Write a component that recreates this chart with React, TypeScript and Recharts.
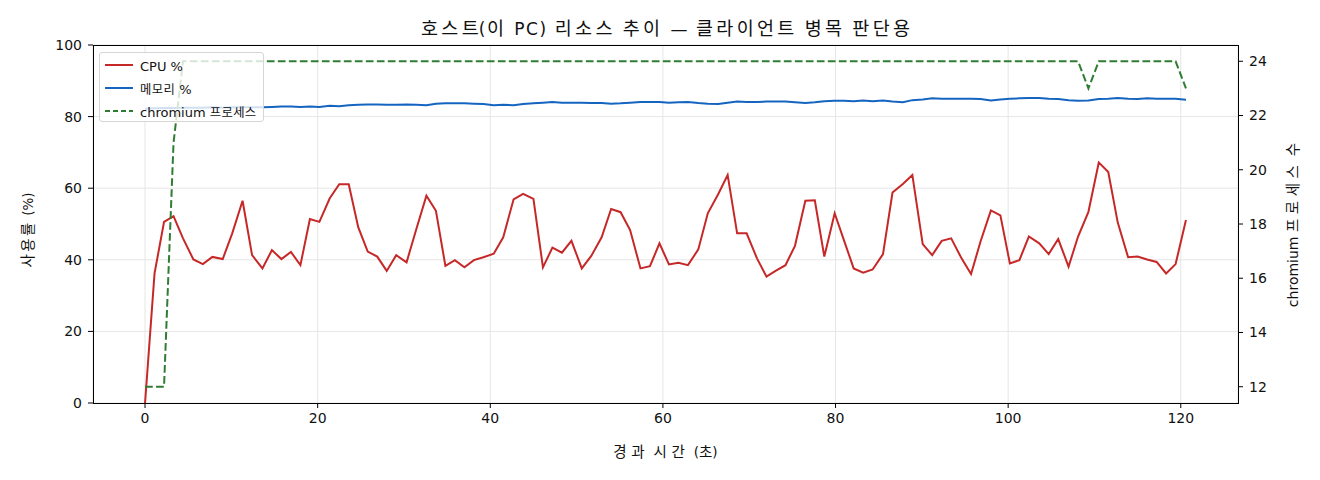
import React from "react";
import { LineChart, Line, XAxis, YAxis, CartesianGrid } from "recharts";

const timeSec = [
  0, 1.1, 2.2, 3.3, 4.4, 5.6, 6.7, 7.8, 9.0, 10.1, 11.3, 12.4, 13.6, 14.7, 15.8, 16.9, 18.0, 19.1, 20.2, 21.4, 22.5, 23.6, 24.7, 25.8, 26.9, 28.0, 29.1, 30.3,
  31.4, 32.6, 33.7, 34.8, 35.9, 37.0, 38.1, 39.2, 40.4, 41.5, 42.7, 43.8, 45.0, 46.1, 47.2, 48.3, 49.4, 50.6, 51.7, 52.9, 54.0, 55.1, 56.2, 57.4, 58.5, 59.6, 60.7, 61.8,
  62.9, 64.1, 65.2, 66.4, 67.5, 68.6, 69.7, 70.9, 72.0, 73.1, 74.2, 75.3, 76.5, 77.6, 78.7, 79.9, 81.0, 82.1, 83.2, 84.3, 85.5, 86.6, 87.8, 88.9, 90.1, 91.2, 92.3,
  93.4, 94.6, 95.7, 96.8, 98.0, 99.1, 100.2, 101.3, 102.4, 103.6, 104.7, 105.8, 107.0, 108.1, 109.3, 110.5, 111.6, 112.7, 113.9, 115.0, 116.1, 117.2, 118.3, 119.4, 120.6,
];

const cpuPct = [
  0, 36.2, 50.6, 52.2, 46.0, 40.1, 38.8, 40.8, 40.2, 47.4,
  56.5, 41.3, 37.6, 42.7, 40.2, 42.2, 38.5, 51.4, 50.6, 57.2,
  61.1, 61.1, 49.1, 42.3, 40.9, 36.9, 41.3, 39.3, 48.3, 57.9,
  53.7, 38.3, 39.9, 37.9, 39.9, 40.7, 41.7, 46.3, 56.9, 58.4,
  57.0, 37.9, 43.4, 42.0, 45.3, 37.6, 41.1, 46.3, 54.2, 53.3,
  48.3, 37.6, 38.2, 44.6, 38.7, 39.2, 38.5, 42.9, 53.0, 58.3,
  63.7, 47.4, 47.4, 40.4, 35.3, 37.0, 38.5, 43.9, 56.5, 56.6,
  40.9, 53.0, 45.3, 37.6, 36.4, 37.3, 41.6, 58.8, 61.2, 63.7,
  44.4, 41.3, 45.3, 46.0, 40.4, 36.0, 45.1, 53.8, 52.4, 39.0,
  39.9, 46.5, 44.6, 41.6, 45.8, 38.1, 46.5, 53.4, 67.2, 64.5,
  50.4, 40.7, 40.9, 40.1, 39.4, 36.2, 38.8, 51.1,
];

const memPct = [
  82.2, 82.3, 82.4, 82.4, 82.5, 82.5, 82.5, 82.6, 82.5, 82.6,
  82.6, 82.6, 82.6, 82.7, 82.8, 82.8, 82.7, 82.8, 82.7, 83.0,
  82.9, 83.2, 83.3, 83.4, 83.4, 83.3, 83.3, 83.4, 83.3, 83.2,
  83.6, 83.7, 83.7, 83.7, 83.6, 83.5, 83.2, 83.3, 83.2, 83.5,
  83.7, 83.9, 84.1, 83.9, 83.9, 83.9, 83.8, 83.8, 83.6, 83.7,
  83.9, 84.1, 84.1, 84.1, 83.9, 84.0, 84.1, 83.8, 83.6, 83.5,
  83.9, 84.2, 84.1, 84.1, 84.2, 84.2, 84.2, 84.0, 83.8, 84.0,
  84.3, 84.4, 84.4, 84.3, 84.5, 84.3, 84.5, 84.2, 84.0, 84.6,
  84.8, 85.1, 85.0, 85.0, 85.0, 85.0, 84.9, 84.5, 84.8, 85.0,
  85.1, 85.2, 85.2, 85.0, 84.9, 84.6, 84.4, 84.5, 84.9, 85.0,
  85.2, 85.0, 84.9, 85.1, 85.0, 85.0, 85.0, 84.7,
];

const chromiumCount = [
  12, 12, 12, 21, 24, 24, 24, 24, 24, 24,
  24, 24, 24, 24, 24, 24, 24, 24, 24, 24,
  24, 24, 24, 24, 24, 24, 24, 24, 24, 24,
  24, 24, 24, 24, 24, 24, 24, 24, 24, 24,
  24, 24, 24, 24, 24, 24, 24, 24, 24, 24,
  24, 24, 24, 24, 24, 24, 24, 24, 24, 24,
  24, 24, 24, 24, 24, 24, 24, 24, 24, 24,
  24, 24, 24, 24, 24, 24, 24, 24, 24, 24,
  24, 24, 24, 24, 24, 24, 24, 24, 24, 24,
  24, 24, 24, 24, 24, 24, 24, 23, 24, 24,
  24, 24, 24, 24, 24, 24, 24, 23,
];

const xTicks = [0, 20, 40, 60, 80, 100, 120];
const leftTicks = [0, 20, 40, 60, 80, 100];
const rightTicks = [12, 14, 16, 18, 20, 22, 24];

const titleText = "호스트(이 PC) 리소스 추이 — 클라이언트 병목 판단용";
const xLabel = "경과 시간 (초)";
const leftLabel = "사용률 (%)";
const rightLabel = "chromium 프로세스 수";
const seriesNames = ["CPU %", "메모리 %", "chromium 프로세스"];

const COLORS = { cpu: "#c62828", mem: "#1565c0", chrom: "#2e7d32" };
const KFONT = "'Noto Sans CJK KR', sans-serif";
const LFONT = "'DejaVu Sans', sans-serif";

const data = timeSec.map((t, i) => ({
  t,
  cpu: cpuPct[i],
  mem: memPct[i],
  chrom: chromiumCount[i],
}));

const tickStyle = { fill: "#111", fontSize: 14, fontFamily: LFONT };

type MixedProps = { text: string; kSize: number; kSpace: number; lSize: number; lSpace?: number };

function Mixed({ text, kSize, kSpace, lSize, lSpace = 0 }: MixedProps) {
  const parts = text.split(/([\uAC00-\uD7A3]+)/).filter((p) => p.length > 0);
  const out: React.ReactNode[] = [];
  parts.forEach((p, i) => {
    const korean = /[\uAC00-\uD7A3]/.test(p);
    if (!korean) {
      out.push(
        <span key={i} style={{ fontFamily: LFONT, fontSize: lSize, letterSpacing: lSpace }}>
          {p}
        </span>
      );
      return;
    }
    const next = parts[i + 1];
    const keepTrailing = next !== undefined && /^\s/.test(next);
    const kStyle = { fontFamily: KFONT, fontSize: kSize, letterSpacing: kSpace };
    if (keepTrailing) {
      out.push(
        <span key={i} style={kStyle}>
          {p}
        </span>
      );
    } else {
      out.push(
        <span key={i + "a"} style={kStyle}>
          {p.slice(0, -1)}
        </span>
      );
      out.push(
        <span key={i + "b"} style={{ ...kStyle, letterSpacing: 0 }}>
          {p.slice(-1)}
        </span>
      );
    }
  });
  return <>{out}</>;
}

export default function App() {
  const legendRows = [
    { name: seriesNames[0], color: COLORS.cpu, dash: undefined as string | undefined },
    { name: seriesNames[1], color: COLORS.mem, dash: undefined as string | undefined },
    { name: seriesNames[2], color: COLORS.chrom, dash: "5 3" },
  ];
  return (
    <div
      style={{
        position: "absolute",
        left: 0,
        top: 0,
        width: 1320,
        height: 480,
        background: "#fff",
        fontFamily: KFONT,
        color: "#111",
      }}
    >
      <LineChart width={1320} height={480} data={data} margin={{ top: 45, right: 0, bottom: 0, left: 0 }}>
        <CartesianGrid yAxisId="left" stroke="#e6e6e6" strokeWidth={1} />
        <XAxis
          dataKey="t"
          type="number"
          domain={[-6.03, 126.63]}
          ticks={xTicks}
          height={77}
          axisLine={false}
          tickLine={{ stroke: "#000" }}
          tickSize={5}
          tickMargin={5}
          tick={tickStyle}
          allowDataOverflow
        />
        <YAxis
          yAxisId="left"
          orientation="left"
          width={93}
          domain={[0, 100]}
          ticks={leftTicks}
          axisLine={false}
          tickLine={{ stroke: "#000" }}
          tickSize={5}
          tickMargin={6}
          tick={tickStyle}
          allowDataOverflow
        />
        <YAxis
          yAxisId="right"
          orientation="right"
          width={82}
          domain={[11.4, 24.6]}
          ticks={rightTicks}
          axisLine={false}
          tickLine={{ stroke: "#000" }}
          tickSize={5}
          tickMargin={6}
          tick={tickStyle}
          allowDataOverflow
        />
        <Line
          yAxisId="left"
          type="linear"
          dataKey="cpu"
          stroke={COLORS.cpu}
          strokeWidth={2}
          dot={false}
          isAnimationActive={false}
        />
        <Line
          yAxisId="left"
          type="linear"
          dataKey="mem"
          stroke={COLORS.mem}
          strokeWidth={2}
          dot={false}
          isAnimationActive={false}
        />
        <Line
          yAxisId="right"
          type="linear"
          dataKey="chrom"
          stroke={COLORS.chrom}
          strokeWidth={2}
          strokeDasharray="7.7 3.3"
          dot={false}
          isAnimationActive={false}
        />
      </LineChart>

      {/* plot frame */}
      <div
        style={{
          position: "absolute",
          left: 93,
          top: 45,
          width: 1146,
          height: 359,
          border: "1px solid #000",
          boxSizing: "border-box",
          pointerEvents: "none",
        }}
      />

      {/* title */}
      <div
        style={{
          position: "absolute",
          left: 93,
          width: 1145,
          top: 14,
          textAlign: "center",
          lineHeight: "26px",
          whiteSpace: "nowrap",
        }}
      >
        <Mixed text={titleText} kSize={18.5} kSpace={3.3} lSize={17} lSpace={1.6} />
      </div>

      {/* x label */}
      <div
        style={{
          position: "absolute",
          left: 93,
          width: 1145,
          top: 440,
          textAlign: "center",
          lineHeight: "20px",
          whiteSpace: "nowrap",
        }}
      >
        <Mixed text={xLabel} kSize={14.5} kSpace={4.6} lSize={13.5} />
      </div>

      {/* left y label */}
      <div
        style={{
          position: "absolute",
          left: 27,
          top: 230,
          transform: "translate(-50%, -50%) rotate(-90deg)",
          lineHeight: "20px",
          whiteSpace: "nowrap",
        }}
      >
        <Mixed text={leftLabel} kSize={14.5} kSpace={2.5} lSize={13.5} />
      </div>

      {/* right y label */}
      <div
        style={{
          position: "absolute",
          left: 1292,
          top: 225,
          transform: "translate(-50%, -50%) rotate(-90deg)",
          lineHeight: "20px",
          whiteSpace: "nowrap",
        }}
      >
        <Mixed text={rightLabel} kSize={14.5} kSpace={4.5} lSize={14} />
      </div>

      {/* legend */}
      <div
        style={{
          position: "absolute",
          left: 99,
          top: 52,
          width: 165,
          height: 70,
          background: "rgba(255,255,255,0.8)",
          border: "1px solid #d6d6d6",
          borderRadius: 3,
          boxSizing: "border-box",
          pointerEvents: "none",
        }}
      >
        {legendRows.map((r, i) => (
          <div
            key={r.name}
            style={{
              position: "absolute",
              left: 0,
              top: 3 + i * 23,
              height: 18,
              display: "flex",
              alignItems: "center",
              whiteSpace: "nowrap",
              lineHeight: "18px",
            }}
          >
            <svg width={40} height={18} style={{ display: "block" }}>
              <line
                x1={5}
                x2={33}
                y1={9}
                y2={9}
                stroke={r.color}
                strokeWidth={2}
                strokeDasharray={r.dash}
              />
            </svg>
            <span>
              <Mixed text={r.name} kSize={12.3} kSpace={0.4} lSize={13} />
            </span>
          </div>
        ))}
      </div>
    </div>
  );
}
